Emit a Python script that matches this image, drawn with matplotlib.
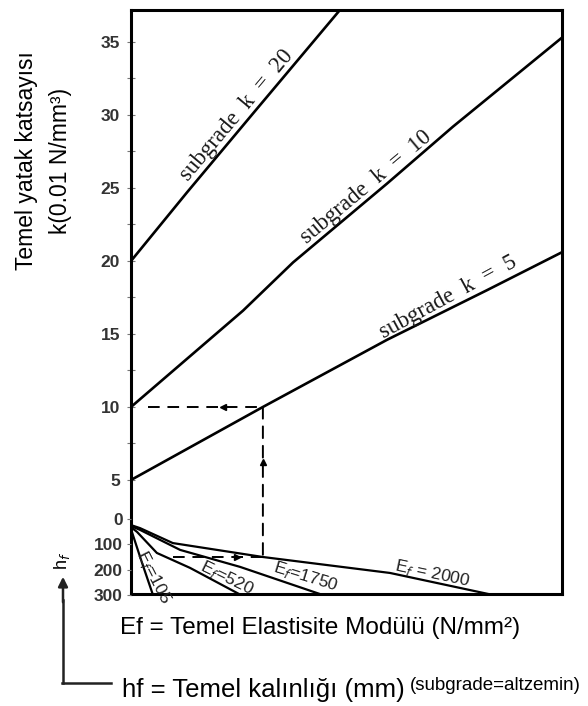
import numpy as np
import matplotlib.pyplot as plt
from matplotlib.patches import ConnectionPatch
from matplotlib.lines import Line2D

plt.rcParams['font.family'] = ['Liberation Sans', 'DejaVu Sans']

# >>> data (x: Ef-axis, no units shown, 0..100 across the box)
k20_x = [0, 13.0, 28.3, 48.5, 52]
k20_y = [20, 24.7, 30.1, 37.2, 39.5]
k10_x = [0, 26.0, 37.6, 59.4, 74.7, 100]
k10_y = [10, 16.6, 19.9, 25.3, 29.2, 35.3]
k5_x = [0, 30.6, 59.4, 82.6, 100]
k5_y = [5, 10.0, 14.6, 18.0, 20.6]

ef105_x = [0, 2.5, 5.1]
ef105_h = [40, 170, 300]
ef520_x = [0, 1.4, 6.0, 13.7, 25.5]
ef520_h = [32, 51, 134, 193, 300]
ef1750_x = [0, 2.1, 11.4, 25.3, 44.5]
ef1750_h = [28, 43, 122, 189, 300]
ef2000_x = [0, 2.1, 9.7, 30.6, 60.1, 84.0]
ef2000_h = [24, 36, 95, 150, 213, 300]

k_ticks = [5, 10, 15, 20, 25, 30, 35]
k_minor = [7.5, 12.5, 17.5, 22.5, 27.5, 32.5]
hf_ticks = [0, 100, 200, 300]

# example: hf=150 -> Ef=2000 -> k=5 line -> k=10
ex_x = 30.6
ex_hf = 150
ex_k = 10

fig = plt.figure(figsize=(5.88, 7.06), dpi=100)
W, H = 588, 706
def fx(px): return px / W
def fy(py): return 1 - py / H

ax = fig.add_axes([fx(131), fy(594), fx(562) - fx(131), fy(10) - fy(594)])
ax.set_xlim(0, 100)
ax.set_ylim(-2.81, 37.19)
for s in ax.spines.values():
    s.set_linewidth(2.2)
ax.set_xticks([])
ax.set_yticks(k_ticks)
ax.set_yticks(k_minor, minor=True)
ax.tick_params(axis='y', which='both', direction='inout', length=6, width=0.8,
               color='#777777', labelsize=12.5, labelcolor='#333333', pad=5)
for t in ax.get_yticklabels():
    t.set_fontweight('bold')

# hf scale in the lower part of the same box
axh = fig.add_axes([fx(131), fy(595), fx(562) - fx(131), fy(519) - fy(595)], sharex=ax)
axh.set_ylim(300, 0)
axh.patch.set_alpha(0)
for s in axh.spines.values():
    s.set_visible(False)
axh.set_yticks(hf_ticks)
axh.tick_params(axis='y', direction='out', length=3, width=0.8, color='#777777',
                labelsize=12.5, labelcolor='#333333', pad=3)
axh.tick_params(axis='x', bottom=False, labelbottom=False)
for t in axh.get_yticklabels():
    t.set_fontweight('bold')

lw = 1.9
ax.plot(k20_x, k20_y, color='k', lw=lw)
ax.plot(k10_x, k10_y, color='k', lw=lw)
ax.plot(k5_x, k5_y, color='k', lw=lw)

for xs, hs in [(ef105_x, ef105_h), (ef520_x, ef520_h), (ef1750_x, ef1750_h), (ef2000_x, ef2000_h)]:
    axh.plot(xs, hs, color='k', lw=1.6)

# line labels, sitting just above each k line
def line_label(a, xs, ys, x0, text, rot, d=11, **kw):
    y0 = np.interp(x0, xs, ys)
    r = np.radians(rot)
    a.annotate(text, xy=(x0, y0), xytext=(-np.sin(r) * d, np.cos(r) * d),
               textcoords='offset pixels', rotation=rot, rotation_mode='anchor',
               ha='center', va='center', **kw)

serif = dict(family=['Liberation Serif', 'DejaVu Serif'], fontsize=16.5, color='#1a1a1a')
line_label(ax, k20_x, k20_y, 26.5, 'subgrade  k  =  20', 50, **serif)
line_label(ax, k10_x, k10_y, 56.1, 'subgrade  k  =  10', 40, **serif)
line_label(ax, k5_x, k5_y, 74.7, 'subgrade  k  =  5', 28.5, **serif)

sans = dict(fontsize=12.5, color='#222222', ha='center', va='center', rotation_mode='anchor')
axh.text(5.2, 229, r'E$_f$=105', rotation=-63, **sans)
axh.text(22.3, 233, r'E$_f$=520', rotation=-26, **sans)
axh.text(40.5, 226, r'E$_f$=1750', rotation=-17, **sans)
axh.text(70.0, 217, r'E$_f$ = 2000', rotation=-12, **sans)

# dashed reading path
dash = dict(color='k', lw=1.4, ls=(0, (6, 4)))
ax.plot([4, ex_x], [ex_k, ex_k], **dash)
axh.plot([9.7, ex_x], [ex_hf, ex_hf], **dash)
con = ConnectionPatch(xyA=(ex_x, ex_k), coordsA=ax.transData,
                      xyB=(ex_x, ex_hf), coordsB=axh.transData,
                      color='k', lw=1.4, linestyle=(0, (6, 4)))
fig.add_artist(con)
ax.plot(21.3, ex_k, marker='<', color='k', ms=5)
ax.plot(ex_x, 6.2, marker='^', color='k', ms=5)
axh.plot(24.6, ex_hf, marker='>', color='k', ms=5)

# axis titles
fig.text(fx(27), fy(161), 'Temel yatak katsayısı', rotation=90, fontsize=16.5,
         ha='center', va='center')
fig.text(fx(61), fy(161), 'k(0.01 N/mm³)', rotation=90, fontsize=16.5,
         ha='center', va='center')
fig.text(fx(120), fy(628), 'Ef = Temel Elastisite Modülü (N/mm²)', fontsize=17.5,
         ha='left', va='center')
fig.text(fx(122), fy(690), 'hf = Temel kalınlığı (mm)', fontsize=18.5,
         ha='left', va='center')
fig.text(fx(410), fy(686), '(subgrade=altzemin)', fontsize=13.5,
         ha='left', va='center')

# hf arrow at the lower left
fig.text(fx(62), fy(561), r'h$_f$', rotation=90, fontsize=13, ha='center', va='center')
fig.add_artist(Line2D([fx(63), fx(63)], [fy(683), fy(600)], color='#222222', lw=1.8))
fig.add_artist(Line2D([fx(62.2), fx(111)], [fy(683), fy(683)], color='#222222', lw=1.8))
ax.annotate('', xy=(fx(63), fy(574)), xytext=(fx(63), fy(605)), xycoords='figure fraction',
            textcoords='figure fraction',
            arrowprops=dict(arrowstyle='-|>', lw=1.8, color='#222222', mutation_scale=14))

plt.savefig('out.png', dpi=100)
plt.close()
